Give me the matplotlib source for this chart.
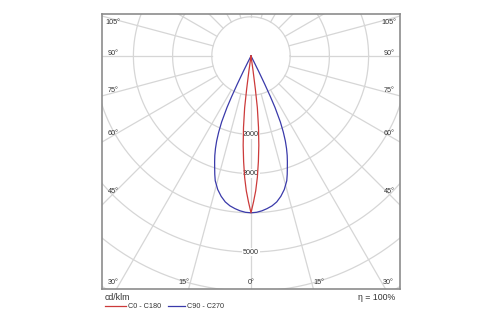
import numpy as np
import matplotlib
matplotlib.use("Agg")
import matplotlib.pyplot as plt
from matplotlib.lines import Line2D

# ---- data (cd/klm vs gamma angle in degrees) ----
gamma_c0 = [0, 1, 2, 3, 4, 5, 6, 7, 7.5, 8, 8.5, 90]
int_c0 = [4000, 3720, 3440, 3100, 2700, 2290, 1830, 1330, 850, 380, 0, 0]

gamma_c90 = [0, 2, 4, 6, 8, 10, 12, 14, 16, 17, 18, 19, 20, 21, 22, 23, 24, 25, 25.5, 26, 26.5, 27, 27.5, 90]
int_c90 = [4000, 3990, 3960, 3915, 3860, 3780, 3660, 3510, 3310, 3160, 3000, 2850, 2700, 2530, 2340,
           2110, 1840, 1450, 1150, 800, 450, 150, 0, 0]

ring_values = [1000, 2000, 3000, 4000, 5000, 6000, 7000, 8000]
ring_labels = [2000, 3000, 5000]
angle_labels_side = [45, 60, 75, 90, 105]
angle_labels_bottom = [0, 15, 30]
series_names = ["C0 - C180", "C90 - C270"]
unit_label = "cd/klm"
eta_label = "η = 100%"

RED = "#cc3a3a"
BLUE = "#3a3aaa"
GRID = "#d6d6d6"
TXT = "#333333"
FONT = ["Liberation Sans", "DejaVu Sans"]

W, H = 500, 325
fig = plt.figure(figsize=(W / 100, H / 100), dpi=100)
L, R, T, B = 102, 400, 14, 289
cx, cy = 251, 56
s = 39.2 / 1000.0  # px per cd/klm
ax = fig.add_axes([L / W, (H - B) / H, (R - L) / W, (B - T) / H])
ax.set_xlim((L - cx) / s, (R - cx) / s)
ax.set_ylim(-(B - cy) / s, (cy - T) / s)
ax.set_xticks([])
ax.set_yticks([])
for sp in ax.spines.values():
    sp.set_color("#8c8c8c")
    sp.set_linewidth(1.2)

# grid rings
t = np.linspace(0, 2 * np.pi, 721)
for r in ring_values:
    ax.plot(r * np.cos(t), r * np.sin(t), color=GRID, lw=0.9, zorder=1)
# radial lines every 15 deg from r=1000
rmin, rmax = ring_values[0], 9000
for a in range(0, 360, 15):
    g = np.radians(a)
    ax.plot([rmin * np.sin(g), rmax * np.sin(g)], [-rmin * np.cos(g), -rmax * np.cos(g)],
            color=GRID, lw=0.9, zorder=1)

# ring labels
for r in ring_labels:
    ax.text(0, -r, str(r), ha="center", va="center", fontsize=5.2, color=TXT, family=FONT,
            bbox=dict(facecolor="white", edgecolor="none", pad=0.6), zorder=2)


def curve(gam, inten):
    g = np.radians(np.asarray(gam, float))
    i = np.asarray(inten, float)
    gg = np.concatenate([-g[::-1], g[1:]])
    ii = np.concatenate([i[::-1], i[1:]])
    return ii * np.sin(gg), -ii * np.cos(gg)


x0, y0 = curve(gamma_c0, int_c0)
x9, y9 = curve(gamma_c90, int_c90)
ax.plot(x9, y9, color=BLUE, lw=0.9, zorder=3)
ax.plot(x0, y0, color=RED, lw=0.9, zorder=4)

# angle labels (placed in pixel geometry, converted to data units)
px = 1.0 / s
for a in angle_labels_side:
    g = np.radians(a)
    dxp = (cx - L) - 11  # label centre 11 px inside border
    dyp = dxp / np.tan(g) if a != 90 else 0.0
    ylab_px = cy + dyp - 2.5
    ylab_px = max(ylab_px, T + 9)
    for sign in (-1, 1):
        ax.text(sign * dxp * px, -(ylab_px - cy) * px, f"{a}°", ha="center", va="center",
                fontsize=5.2, color=TXT, family=FONT, zorder=5)
for a in angle_labels_bottom:
    g = np.radians(a)
    ylab_px = B - 7
    dyp = ylab_px - cy
    dxp = dyp * np.tan(g)
    if a != 0:
        dxp += 7
    for sign in ((-1, 1) if a != 0 else (1,)):
        ax.text(sign * dxp * px, -dyp * px, f"{a}°", ha="center", va="center",
                fontsize=5.2, color=TXT, family=FONT, zorder=5)

# footer texts
fig.text(105 / W, 1 - 297 / H, unit_label, ha="left", va="center", fontsize=6.3, color=TXT, family=FONT)
fig.text(395 / W, 1 - 297 / H, eta_label, ha="right", va="center", fontsize=6.3, color=TXT, family=FONT)
ly = 1 - 306 / H
fig.add_artist(Line2D([105 / W, 126 / W], [ly, ly], color=RED, lw=0.9))
fig.text(128 / W, ly, series_names[0], ha="left", va="center", fontsize=5.2, color=TXT, family=FONT)
fig.add_artist(Line2D([168 / W, 185 / W], [ly, ly], color=BLUE, lw=0.9))
fig.text(187 / W, ly, series_names[1], ha="left", va="center", fontsize=5.2, color=TXT, family=FONT)

fig.savefig("out.png", dpi=100, facecolor="white")
